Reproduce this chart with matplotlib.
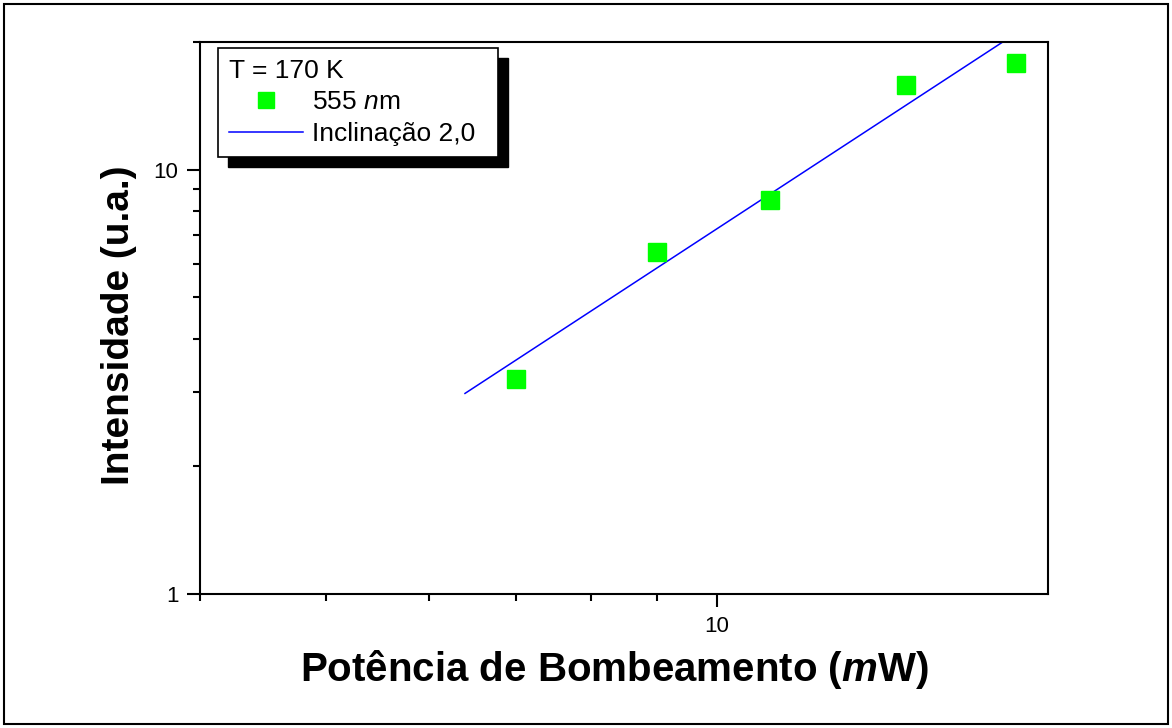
import numpy as np
import matplotlib
matplotlib.use("Agg")
import matplotlib.pyplot as plt
from matplotlib.patches import Rectangle
from matplotlib.ticker import FixedLocator, NullFormatter, FuncFormatter, LogLocator

# Dados
potencia = [7.0, 9.0, 11.0, 14.0, 17.0]          # mW
intensidade = [3.22, 6.41, 8.50, 15.8, 17.8]     # u.a.

# Reta de inclinação 2,0 (extremos)
reta_x = [6.4, 16.9]
reta_y = [2.97, 20.7]

plt.rcParams['font.family'] = ['Liberation Sans', 'DejaVu Sans']
plt.rcParams['mathtext.fontset'] = 'custom'
plt.rcParams['mathtext.rm'] = 'Liberation Sans'
plt.rcParams['mathtext.it'] = 'Liberation Sans:italic'
plt.rcParams['mathtext.bf'] = 'Liberation Sans:bold'
plt.rcParams['mathtext.bfit'] = 'Liberation Sans:bold:italic'

fig = plt.figure(figsize=(11.72, 7.28), dpi=100)
ax = fig.add_axes([200/1172, 1 - 594/728, 848/1172, 552/728])

pts, = ax.plot(potencia, intensidade, 's', color='#00ff00', ms=13, mec='#00ff00',
               label=r'555 $\mathit{n}$m', zorder=3)
reta, = ax.plot(reta_x, reta_y, color='#0000ff', lw=1.1, label='Inclinação 2,0', zorder=2)

ax.set_xscale('log')
ax.set_yscale('log')
ax.set_xlim(4, 18)
ax.set_ylim(1, 20)

ax.xaxis.set_major_locator(FixedLocator([10]))
ax.yaxis.set_major_locator(FixedLocator([1, 10]))
ax.xaxis.set_minor_locator(LogLocator(base=10, subs=np.arange(2, 10)))
ax.yaxis.set_minor_locator(LogLocator(base=10, subs=np.arange(2, 10)))
fmt = FuncFormatter(lambda v, p: '%g' % v)
ax.xaxis.set_major_formatter(fmt)
ax.yaxis.set_major_formatter(fmt)
ax.xaxis.set_minor_formatter(NullFormatter())
ax.yaxis.set_minor_formatter(NullFormatter())

ax.tick_params(which='major', direction='out', length=9.5, width=1.5, labelsize=16, pad=6)
ax.tick_params(which='minor', direction='out', length=5, width=1.5)
ax.tick_params(top=False, right=False)
for s in ax.spines.values():
    s.set_linewidth(1.5)

ax.set_xlabel(r'Potência de Bombeamento ($\mathbfit{m}$W)', fontsize=29,
              fontweight='bold', labelpad=8)
ax.set_ylabel('Intensidade (u.a.)', fontsize=28, fontweight='bold', labelpad=12)
ax.xaxis.label.set_x(0.488)
ax.yaxis.label.set_y(0.486)

leg = ax.legend(handles=[pts, reta], loc='upper left',
                bbox_to_anchor=(18/848, 1 - 6/552, 280/848, 0), mode='expand',
                borderaxespad=0, title='T = 170 K', alignment='left',
                fontsize=19, title_fontsize=19, fancybox=False,
                edgecolor='black', framealpha=1, handlelength=2.8,
                handletextpad=0.35, labelspacing=0.28, borderpad=0.42,
                markerscale=0.85)
leg.get_frame().set_linewidth(1.2)
leg.set_zorder(6)

# sombra preta deslocada atrás da legenda
fig.canvas.draw()
bb = leg.get_window_extent()
(x0, y0), (x1, y1) = ax.transAxes.inverted().transform([[bb.x0 + 10, bb.y0 - 10],
                                                        [bb.x1 + 10, bb.y1 - 10]])
ax.add_patch(Rectangle((x0, y0), x1 - x0, y1 - y0, transform=ax.transAxes,
                       facecolor='black', edgecolor='black', zorder=5, clip_on=False))

# moldura externa
fig.add_artist(Rectangle((0.003, 0.005), 0.994, 0.99, transform=fig.transFigure,
                         fill=False, edgecolor='black', lw=1.5))

fig.savefig('out.png', dpi=100)
